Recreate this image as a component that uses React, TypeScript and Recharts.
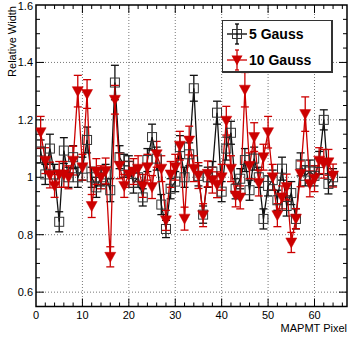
import React from "react";
import {
  ComposedChart,
  Line,
  XAxis,
  YAxis,
  CartesianGrid,
  ErrorBar,
  ReferenceLine,
  ReferenceArea,
  Legend,
  Label,
} from "recharts";

const PIXELS = [
  1, 2, 3, 4, 5, 6, 7, 8, 9, 10, 11, 12, 13, 14, 15, 16,
  17, 18, 19, 20, 21, 22, 23, 24, 25, 26, 27, 28, 29, 30, 31, 32,
  33, 34, 35, 36, 37, 38, 39, 40, 41, 42, 43, 44, 45, 46, 47, 48,
  49, 50, 51, 52, 53, 54, 55, 56, 57, 58, 59, 60, 61, 62, 63, 64,
];

// 5 Gauss, relative width per pixel
const GAUSS5 = [
  1.09, 1.01, 1.1, 1.01, 0.845, 1.093, 1.0, 1.07,
  1.0, 1.03, 1.13, 1.0, 0.965, 1.0, 1.01, 0.955,
  1.33, 1.07, 1.04, 1.04, 0.98, 1.0, 0.93, 1.06,
  1.14, 1.065, 0.905, 0.82, 0.96, 0.985, 1.105, 1.0,
  1.08, 1.31, 1.005, 0.87, 1.0, 1.02, 1.225, 0.95,
  1.1, 1.155, 0.96, 0.995, 1.06, 0.955, 1.065, 1.0,
  0.855, 0.97, 0.99, 0.92, 1.03, 0.9, 0.945, 0.855,
  1.045, 1.005, 1.02, 1.005, 1.05, 1.2, 0.977, 1.0,
];
const ERR5 = [
  0.04, 0.035, 0.05, 0.035, 0.035, 0.045, 0.035, 0.04,
  0.035, 0.04, 0.045, 0.035, 0.035, 0.03, 0.035, 0.04,
  0.06, 0.04, 0.04, 0.035, 0.035, 0.035, 0.03, 0.04,
  0.045, 0.04, 0.035, 0.03, 0.035, 0.035, 0.04, 0.035,
  0.04, 0.045, 0.035, 0.03, 0.035, 0.035, 0.04, 0.035,
  0.04, 0.04, 0.035, 0.035, 0.04, 0.035, 0.04, 0.035,
  0.035, 0.035, 0.035, 0.035, 0.04, 0.035, 0.04, 0.035,
  0.04, 0.035, 0.04, 0.035, 0.04, 0.035, 0.035, 0.03,
];

// 10 Gauss
const GAUSS10 = [
  1.157, 1.058, 1.008, 0.97, 1.01, 1.01, 1.0, 1.058,
  1.3, 1.035, 1.29, 0.9, 1.02, 1.0, 1.022, 0.723,
  1.27, 1.04, 0.97, 1.01, 1.02, 1.03, 0.97, 1.035,
  0.966, 1.08, 1.03, 0.85, 1.01, 1.035, 1.11, 0.856,
  1.128, 1.03, 1.006, 0.868, 1.012, 0.99, 0.974, 1.0,
  1.197, 1.03, 0.937, 0.93, 1.305, 1.04, 1.14, 0.98,
  1.07, 1.157, 1.0, 0.868, 0.93, 0.966, 0.773, 0.856,
  1.012, 1.22, 0.977, 0.995, 1.058, 1.047, 1.052, 1.006,
];
const ERR10 = [
  0.055, 0.045, 0.045, 0.04, 0.045, 0.045, 0.04, 0.05,
  0.055, 0.045, 0.05, 0.04, 0.045, 0.04, 0.045, 0.035,
  0.05, 0.045, 0.04, 0.045, 0.045, 0.045, 0.04, 0.045,
  0.04, 0.045, 0.045, 0.035, 0.045, 0.045, 0.05, 0.04,
  0.05, 0.045, 0.045, 0.04, 0.045, 0.045, 0.045, 0.045,
  0.05, 0.045, 0.04, 0.04, 0.06, 0.045, 0.05, 0.045,
  0.045, 0.055, 0.045, 0.04, 0.04, 0.045, 0.035, 0.035,
  0.045, 0.06, 0.045, 0.045, 0.045, 0.05, 0.045, 0.04,
];

const X_LABELS = [0, 10, 20, 30, 40, 50, 60];
const X_MAJOR = [10, 20, 30, 40, 50, 60];
const X_MINOR = [2, 4, 6, 8, 12, 14, 16, 18, 22, 24, 26, 28, 32, 34, 36, 38, 42, 44, 46, 48, 52, 54, 56, 58, 62, 64, 66];
const Y_LABELS = [0.6, 0.8, 1, 1.2, 1.4, 1.6];
const Y_MAJOR = [0.6, 0.8, 1, 1.2, 1.4];
const Y_MINOR = [0.65, 0.7, 0.75, 0.85, 0.9, 0.95, 1.05, 1.1, 1.15, 1.25, 1.3, 1.35, 1.45, 1.5, 1.55];

const X_DOMAIN: [number, number] = [0, 67];
const Y_DOMAIN: [number, number] = [0.55, 1.6];

const W = 353;
const H = 343;
const PLOT_W = 311;
const PLOT_H = 301.5;
// tick lengths converted from pixels to data units
const XU = (X_DOMAIN[1] - X_DOMAIN[0]) / PLOT_W;
const YU = (Y_DOMAIN[1] - Y_DOMAIN[0]) / PLOT_H;
const MAJ = 8;
const MIN = 4;

const RED = "#cc0000";
const FONT = "'Liberation Sans', Arial, Helvetica, sans-serif";

const data = PIXELS.map((p, i) => ({
  pixel: p,
  g5: GAUSS5[i],
  e5: ERR5[i],
  g10: GAUSS10[i],
  e10: ERR10[i],
}));

function SquareDot(props: any) {
  const { cx, cy } = props;
  if (cx == null || cy == null) return null;
  return (
    <rect x={cx - 4.5} y={cy - 4.5} width={9} height={9} fill="none" stroke="#333" strokeWidth={1} />
  );
}

function TriangleDot(props: any) {
  const { cx, cy } = props;
  if (cx == null || cy == null) return null;
  return (
    <polygon
      points={`${cx - 5.5},${cy - 4.5} ${cx + 5.5},${cy - 4.5} ${cx},${cy + 5.5}`}
      fill={RED}
      stroke={RED}
      strokeWidth={0.5}
    />
  );
}

function LegendSymbol({ color, marker }: { color: string; marker: "square" | "triangle" }) {
  return (
    <svg width={22} height={22} style={{ display: "block" }}>
      <line x1={1} y1={11} x2={21} y2={11} stroke={color} strokeWidth={1.3} />
      <line x1={11} y1={1} x2={11} y2={21} stroke={color} strokeWidth={1.3} />
      <line x1={9} y1={1} x2={13} y2={1} stroke={color} strokeWidth={1.3} />
      <line x1={9} y1={21} x2={13} y2={21} stroke={color} strokeWidth={1.3} />
      {marker === "square" ? (
        <rect x={6.5} y={6.5} width={9} height={9} fill="none" stroke="#333" strokeWidth={1} />
      ) : (
        <polygon points="5.5,6.5 16.5,6.5 11,16.5" fill={color} />
      )}
    </svg>
  );
}

function LegendBox() {
  const rows = [
    { label: "5 Gauss", color: "#000", marker: "square" as const },
    { label: "10 Gauss", color: RED, marker: "triangle" as const },
  ];
  return (
    <div
      style={{
        width: 108,
        height: 50,
        background: "#fff",
        borderTop: "1px solid #333",
        borderLeft: "1px solid #333",
        borderRight: "2px solid #333",
        borderBottom: "2px solid #333",
        fontFamily: FONT,
        boxSizing: "content-box",
      }}
    >
      {rows.map((r, i) => (
        <div
          key={r.label}
          style={{
            position: "absolute",
            left: 4,
            top: i === 0 ? 3 : 29,
            display: "flex",
            alignItems: "center",
          }}
        >
          <LegendSymbol color={r.color} marker={r.marker} />
          <span style={{ marginLeft: 1, fontSize: 14, fontWeight: "bold", color: "#000" }}>{r.label}</span>
        </div>
      ))}
    </div>
  );
}

export default function App() {
  return (
    <div style={{ position: "absolute", left: 0, top: 0, width: W, height: H, background: "#fff" }}>
      <ComposedChart width={W} height={H} data={data} margin={{ top: 5, right: 6, left: 0, bottom: 0 }}>
        <CartesianGrid
          verticalValues={X_MAJOR}
          horizontalValues={Y_MAJOR}
          stroke="#777"
          strokeDasharray="1 2"
        />
        <XAxis
          type="number"
          dataKey="pixel"
          domain={X_DOMAIN}
          allowDataOverflow
          ticks={X_LABELS}
          tickLine={false}
          axisLine={false}
          tickSize={0}
          tickMargin={5}
          height={36.5}
          tick={{ fill: "#000", fontSize: 11, fontFamily: FONT }}
        >
          <Label
            content={(props: any) => {
              const vb = props.viewBox || {};
              return (
                <text
                  x={vb.x + vb.width}
                  y={vb.y + 25.5}
                  textAnchor="end"
                  fontSize={11}
                  fontFamily={FONT}
                  fill="#000"
                >
                  MAPMT Pixel
                </text>
              );
            }}
          />
        </XAxis>
        <YAxis
          type="number"
          domain={Y_DOMAIN}
          allowDataOverflow
          ticks={Y_LABELS}
          tickFormatter={(v: number) => String(v)}
          tickLine={false}
          axisLine={false}
          tickSize={0}
          tickMargin={3}
          width={36}
          tick={{ fill: "#000", fontSize: 11, fontFamily: FONT }}
        >
          <Label
            content={(props: any) => {
              const vb = props.viewBox || {};
              const x = vb.x + 16;
              const y = vb.y + 1;
              return (
                <text
                  x={x}
                  y={y}
                  transform={`rotate(-90, ${x}, ${y})`}
                  textAnchor="end"
                  fontSize={11}
                  fontFamily={FONT}
                  fill="#000"
                >
                  Relative Width
                </text>
              );
            }}
          />
        </YAxis>

        {X_MAJOR.concat(X_MINOR).map((v) => {
          const len = X_MAJOR.includes(v) ? MAJ : MIN;
          return (
            <ReferenceLine
              key={`xb${v}`}
              segment={[{ x: v, y: Y_DOMAIN[0] }, { x: v, y: Y_DOMAIN[0] + len * YU }]}
              stroke="#000"
              strokeWidth={1}
            />
          );
        })}
        {X_MAJOR.concat(X_MINOR).map((v) => {
          const len = X_MAJOR.includes(v) ? MAJ : MIN;
          return (
            <ReferenceLine
              key={`xt${v}`}
              segment={[{ x: v, y: Y_DOMAIN[1] }, { x: v, y: Y_DOMAIN[1] - len * YU }]}
              stroke="#000"
              strokeWidth={1}
            />
          );
        })}
        {Y_MAJOR.concat(Y_MINOR).map((v) => {
          const len = Y_MAJOR.includes(v) ? MAJ : MIN;
          return (
            <ReferenceLine
              key={`yl${v}`}
              segment={[{ x: X_DOMAIN[0], y: v }, { x: X_DOMAIN[0] + len * XU, y: v }]}
              stroke="#000"
              strokeWidth={1}
            />
          );
        })}
        {Y_MAJOR.concat(Y_MINOR).map((v) => {
          const len = Y_MAJOR.includes(v) ? MAJ : MIN;
          return (
            <ReferenceLine
              key={`yr${v}`}
              segment={[{ x: X_DOMAIN[1], y: v }, { x: X_DOMAIN[1] - len * XU, y: v }]}
              stroke="#000"
              strokeWidth={1}
            />
          );
        })}

        <ReferenceArea
          x1={X_DOMAIN[0]}
          x2={X_DOMAIN[1]}
          y1={Y_DOMAIN[0]}
          y2={Y_DOMAIN[1]}
          fill="none"
          fillOpacity={0}
          stroke="#000"
          strokeWidth={1.5}
        />

        <Line
          type="linear"
          dataKey="g5"
          stroke="#111"
          strokeWidth={1.3}
          dot={(p: any) => <SquareDot key={`s${p.index}`} {...p} />}
          activeDot={false}
          isAnimationActive={false}
        >
          <ErrorBar dataKey="e5" width={4} stroke="#111" strokeWidth={1.3} direction="y" />
        </Line>
        <Line
          type="linear"
          dataKey="g10"
          stroke={RED}
          strokeWidth={1.3}
          dot={(p: any) => <TriangleDot key={`t${p.index}`} {...p} />}
          activeDot={false}
          isAnimationActive={false}
        >
          <ErrorBar dataKey="e10" width={4} stroke={RED} strokeWidth={1.3} direction="y" />
        </Line>

        <Legend
          layout="vertical"
          align="center"
          verticalAlign="middle"
          content={() => <LegendBox />}
          wrapperStyle={{ left: 222, top: 20, width: 111, height: 53 }}
        />
      </ComposedChart>
    </div>
  );
}
